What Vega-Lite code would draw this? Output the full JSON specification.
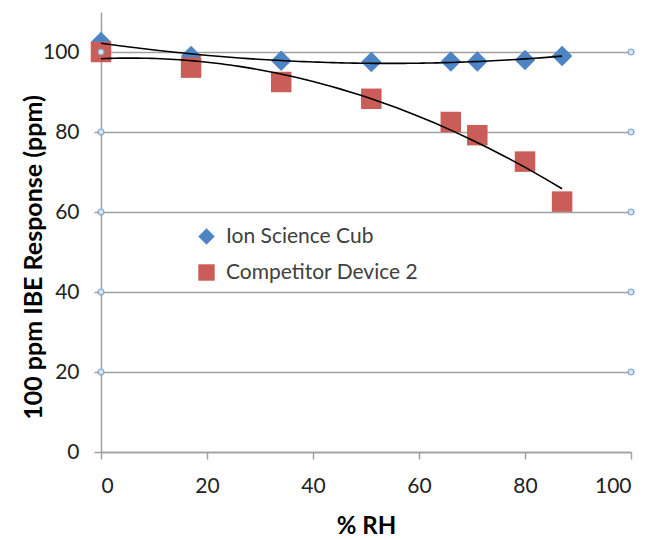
{
  "$schema": "https://vega.github.io/schema/vega-lite/v6.json",
  "width": 530,
  "height": 440,
  "autosize": {"type": "none"},
  "padding": {"left": 101, "top": 12, "right": 30, "bottom": 88},
  "background": "white",
  "config": {
    "view": {"stroke": null},
    "font": "Lato",
    "axis": {"labelFont": "Lato", "titleFont": "Lato"}
  },
  "datasets": {
    "points": [
      {"rh": 0, "resp": 102.5, "series": "Ion Science Cub"},
      {"rh": 17, "resp": 99.0, "series": "Ion Science Cub"},
      {"rh": 34, "resp": 97.8, "series": "Ion Science Cub"},
      {"rh": 51, "resp": 97.5, "series": "Ion Science Cub"},
      {"rh": 66, "resp": 97.6, "series": "Ion Science Cub"},
      {"rh": 71, "resp": 97.6, "series": "Ion Science Cub"},
      {"rh": 80, "resp": 98.0, "series": "Ion Science Cub"},
      {"rh": 87, "resp": 99.0, "series": "Ion Science Cub"},
      {"rh": 0, "resp": 100.0, "series": "Competitor Device 2"},
      {"rh": 17, "resp": 96.1, "series": "Competitor Device 2"},
      {"rh": 34, "resp": 92.5, "series": "Competitor Device 2"},
      {"rh": 51, "resp": 88.3, "series": "Competitor Device 2"},
      {"rh": 66, "resp": 82.5, "series": "Competitor Device 2"},
      {"rh": 71, "resp": 79.2, "series": "Competitor Device 2"},
      {"rh": 80, "resp": 72.6, "series": "Competitor Device 2"},
      {"rh": 87, "resp": 62.6, "series": "Competitor Device 2"}
    ],
    "ends": [
      {"rh": 0, "resp": 20}, {"rh": 0, "resp": 40}, {"rh": 0, "resp": 60}, {"rh": 0, "resp": 80}, {"rh": 0, "resp": 100},
      {"rh": 100, "resp": 20}, {"rh": 100, "resp": 40}, {"rh": 100, "resp": 60}, {"rh": 100, "resp": 80}, {"rh": 100, "resp": 100}
    ]
  },
  "layer": [
    {
      "data": {"name": "points"},
      "mark": {"type": "point", "filled": true, "opacity": 1, "strokeWidth": 0, "size": 420},
      "encoding": {
        "x": {
          "field": "rh", "type": "quantitative",
          "scale": {"domain": [0, 100], "nice": false, "zero": false},
          "axis": {
            "title": "% RH", "values": [0, 20, 40, 60, 80, 100],
            "grid": false, "domainColor": "#a0a0a0", "domainWidth": 1.5,
            "tickColor": "#a0a0a0", "tickWidth": 1.5, "tickSize": 7,
            "labelFontSize": 21, "labelColor": "#222222", "labelPadding": 16,
            "titleFontSize": 24, "titleFontWeight": "bold", "titleColor": "#000000",
            "titlePadding": 18
          }
        },
        "y": {
          "field": "resp", "type": "quantitative",
          "scale": {"domain": [0, 110], "nice": false, "zero": true},
          "axis": {
            "title": "100 ppm IBE Response (ppm)", "values": [0, 20, 40, 60, 80, 100],
            "grid": true, "gridColor": "#a0a0a0", "gridWidth": 1.5,
            "domainColor": "#a0a0a0", "domainWidth": 1.5,
            "tickColor": "#a0a0a0", "tickWidth": 1.5, "tickSize": 7,
            "labelFontSize": 21, "labelColor": "#222222", "labelPadding": 15,
            "titleFontSize": 25, "titleFontWeight": "bold", "titleColor": "#000000",
            "titleX": -55, "titleY": 245
          }
        },
        "color": {
          "field": "series", "type": "nominal",
          "scale": {"domain": ["Ion Science Cub", "Competitor Device 2"], "range": ["#4d84c4", "#cb5d58"]},
          "legend": {
            "title": null, "orient": "none", "legendX": 95, "legendY": 214,
            "labelFontSize": 21, "labelColor": "#404040", "labelFont": "Lato",
            "labelLimit": 400,
            "symbolSize": 270, "rowPadding": 14, "labelOffset": 9,
            "symbolStrokeWidth": 0
          }
        },
        "shape": {
          "field": "series", "type": "nominal",
          "scale": {"domain": ["Ion Science Cub", "Competitor Device 2"], "range": ["diamond", "square"]},
          "legend": null
        }
      }
    },
    {
      "data": {"name": "points"},
      "transform": [
        {"regression": "resp", "on": "rh", "groupby": ["series"], "method": "poly", "order": 2}
      ],
      "mark": {"type": "line", "color": "#000000", "strokeWidth": 1.6},
      "encoding": {
        "x": {"field": "rh", "type": "quantitative"},
        "y": {"field": "resp", "type": "quantitative"},
        "detail": {"field": "series", "type": "nominal"}
      }
    },
    {
      "data": {"name": "ends"},
      "mark": {"type": "point", "shape": "circle", "filled": true, "size": 36, "fill": "#d6e3f0", "stroke": "#7fa3c4", "strokeWidth": 1.2, "opacity": 1},
      "encoding": {
        "x": {"field": "rh", "type": "quantitative"},
        "y": {"field": "resp", "type": "quantitative"}
      }
    }
  ]
}
